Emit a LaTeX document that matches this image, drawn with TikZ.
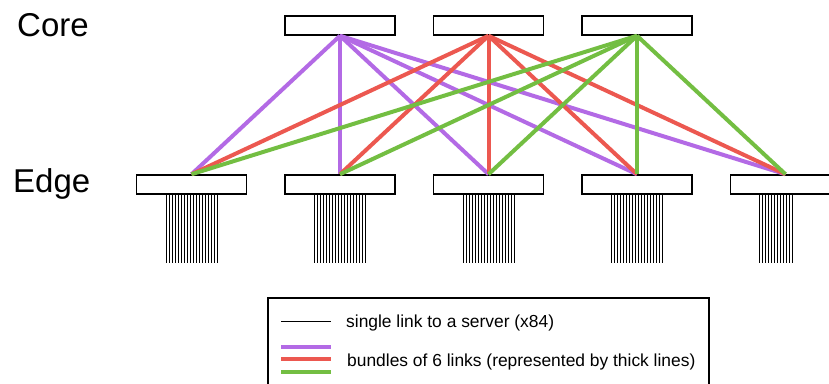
\documentclass[tikz,border=0pt]{standalone}
\usepackage{fontspec}
\setmainfont{Liberation Sans}
\definecolor{lpurple}{RGB}{179,106,229}
\definecolor{lred}{RGB}{236,88,80}
\definecolor{lgreen}{RGB}{115,190,66}
\begin{document}
\begin{tikzpicture}[x=1pt,y=-1pt,
  switchbox/.style={draw=black,fill=white,line width=1.5pt,rectangle,minimum width=110pt,minimum height=19pt,inner sep=0pt},
  bundle/.style={line width=4pt},
  srvline/.style={line width=0.9pt,black},
  bigtext/.style={anchor=base west,inner sep=0pt,font=\fontsize{33}{33}\selectfont},
  legtext/.style={anchor=base west,inner sep=0pt,font=\fontsize{17.4}{17.4}\selectfont}]
\useasboundingbox (0,0) rectangle (829,383);
\clip (0,0) rectangle (829,383);
\fill[white] (0,0) rectangle (829,383);

% labels
\node[bigtext] (lcore) at (17,36.5) {Core};
\node[bigtext] (ledge) at (13,192) {Edge};

% switches
\node[switchbox] (c1) at (340,25.5) {};
\node[switchbox] (c2) at (488.5,25.5) {};
\node[switchbox] (c3) at (637,25.5) {};
\foreach \i/\x in {1/191.5,2/340,3/488.5,4/637,5/785.5}
  \node[switchbox] (e\i) at (\x,184.5) {};

% bundles
\foreach \i in {1,...,5} \draw[bundle,lpurple] (c1.south) -- (e\i.north);
\foreach \i in {1,...,5} \draw[bundle,lred] (c2.south) -- (e\i.north);
\foreach \i in {1,...,5} \draw[bundle,lgreen] (c3.south) -- (e\i.north);

% server links
\foreach \i in {1,...,4}
  \foreach \k in {0,...,17}
    \draw[srvline] ([xshift={-25.5pt+3pt*\k}]e\i.south) -- ++(0,68);
\foreach \k in {0,...,11}
  \draw[srvline] ([xshift={-26.5pt+3pt*\k}]e5.south) -- ++(0,68);

% legend
\draw[line width=1.3pt] (268,298) rectangle (709,400);
\coordinate (la) at (281,321.7);
\coordinate (lb) at (331,321.7);
\draw[line width=1pt] (la) -- (lb);
\coordinate (pa) at (281,346.7);
\coordinate (pb) at (331,346.7);
\coordinate (ra) at (281,359.3);
\coordinate (rb) at (331,359.3);
\coordinate (ga) at (281,371.7);
\coordinate (gb) at (331,371.7);
\draw[bundle,lpurple] (pa) -- (pb);
\draw[bundle,lred] (ra) -- (rb);
\draw[bundle,lgreen] (ga) -- (gb);
\node[legtext] (t1) at (346,327) {single link to a server (x84)};
\node[legtext] (t2) at (347,366) {bundles of 6 links (represented by thick lines)};
\end{tikzpicture}
\end{document}
